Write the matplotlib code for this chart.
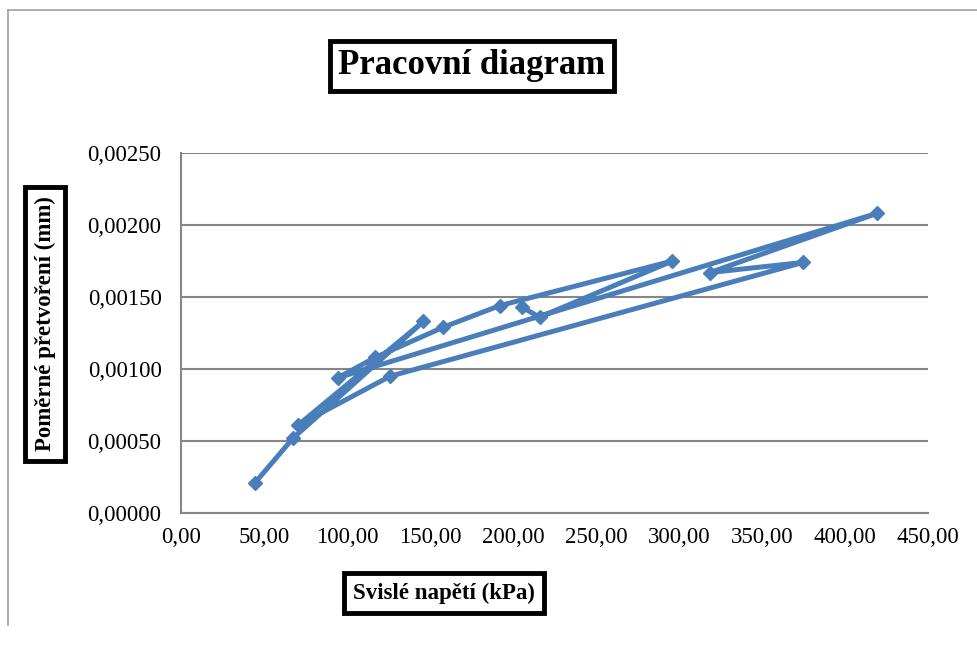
import matplotlib.pyplot as plt
from matplotlib.ticker import FuncFormatter

# stress (kPa) and relative strain, in table order
napeti = [44.6, 67.5, 146.0, 70.5, 126.0, 374.7, 318.7, 419.0, 94.6, 117.0,
          158.0, 192.0, 296.0, 216.0, 205.4]
pretvoreni = [0.00021, 0.00052, 0.00133, 0.00061, 0.00095, 0.00174, 0.00167, 0.00208,
              0.00094, 0.00108, 0.00129, 0.00144, 0.00175, 0.00136, 0.00143]

x_ticks = [0, 50, 100, 150, 200, 250, 300, 350, 400, 450]
y_ticks = [0, 0.0005, 0.001, 0.0015, 0.002, 0.0025]

plt.rcParams['font.family'] = ['Liberation Serif', 'DejaVu Serif']

fig = plt.figure(figsize=(9.78, 6.46), dpi=100)
ax = fig.add_axes([181 / 978, 1 - 513 / 646, (928 - 181) / 978, (513 - 153) / 646])

ax.plot(napeti, pretvoreni, color='#4A7EBB', linewidth=3.6, marker='D',
        markersize=7, solid_joinstyle='miter')

ax.set_xlim(0, 450)
ax.set_ylim(0, 0.0025)
ax.set_xticks(x_ticks)
ax.set_yticks(y_ticks)
ax.xaxis.set_major_formatter(FuncFormatter(lambda v, p: f"{v:.2f}".replace('.', ',')))
ax.yaxis.set_major_formatter(FuncFormatter(lambda v, p: f"{v:.5f}".replace('.', ',')))
ax.tick_params(axis='x', labelsize=16.5, length=0, pad=10)
ax.tick_params(axis='y', labelsize=16.5, length=0, pad=14)
ax.grid(axis='y', color='#868686', linewidth=1.5)
ax.set_axisbelow(True)
for s in ['top', 'right']:
    ax.spines[s].set_visible(False)
for s in ['left', 'bottom']:
    ax.spines[s].set_color('#868686')
    ax.spines[s].set_linewidth(1.5)

# outer chart frame
fig.add_artist(plt.Line2D([8 / 978, 8 / 978], [1 - 10 / 646, 1 - 625 / 646], color='#a0a0a0', lw=1.2))
fig.add_artist(plt.Line2D([8 / 978, 1], [1 - 10 / 646, 1 - 10 / 646], color='#a0a0a0', lw=1.2))

box = dict(boxstyle='square,pad=0.25', facecolor='white', edgecolor='black', linewidth=3.5)
box2 = dict(boxstyle='square,pad=0.4', facecolor='white', edgecolor='black', linewidth=3.5)
fig.text(472 / 978, 1 - 66 / 646, 'Pracovní diagram', fontsize=25, fontweight='bold',
         ha='center', va='center', bbox=box)
fig.text(45 / 978, 1 - 324 / 646, 'Poměrné přetvoření (mm)', fontsize=16.5, fontweight='bold',
         rotation=90, ha='center', va='center', bbox=box2)
fig.text(444 / 978, 1 - 593 / 646, 'Svislé napětí (kPa)', fontsize=16.5, fontweight='bold',
         ha='center', va='center', bbox=box2)

fig.savefig('out.png', dpi=100)
